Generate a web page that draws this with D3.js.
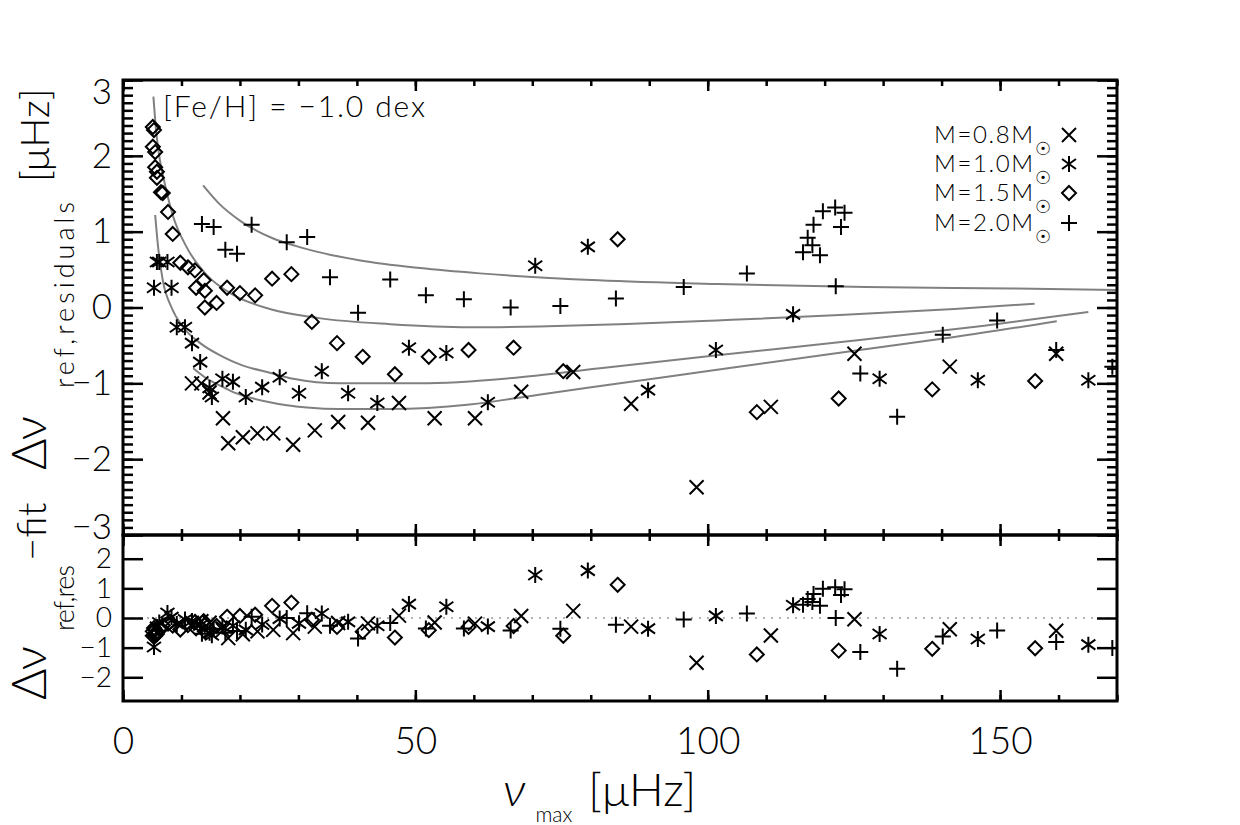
<!DOCTYPE html>
<html>
<head>
<meta charset="utf-8">
<script src="https://cdn.jsdelivr.net/npm/d3@7"></script>
<style>
  body { margin: 0; background: #fff; }
  text { font-family: Lato, "DejaVu Sans", sans-serif; font-weight: 300; fill: #000; }
  .tick line { stroke: #000; stroke-width: 2.5; }
  .domain { display: none; }
</style>
</head>
<body>
<svg class="plot" width="1240" height="825"></svg>
<script>
// ---- data ----
// M = 0.8 Msun  (crosses)
var nuM08  = [11.8, 13.4, 14.8, 17.1, 18.0, 20.5, 23.0, 25.7, 29.1, 32.8, 36.8, 41.9, 47.2, 53.3, 60.2, 68.1, 77.0, 86.9, 98.1, 110.8, 125.1, 141.4, 159.6];
var topM08 = [-1.0, -1.0, -1.12, -1.46, -1.79, -1.71, -1.66, -1.66, -1.81, -1.62, -1.51, -1.52, -1.26, -1.46, -1.46, -1.11, -0.85, -1.27, -2.37, -1.31, -0.61, -0.78, -0.61];
var botM08 = [-0.21, -0.11, -0.16, -0.41, -0.68, -0.55, -0.45, -0.40, -0.51, -0.29, -0.17, -0.18, 0.08, -0.15, -0.19, 0.07, 0.24, -0.29, -1.51, -0.59, -0.04, -0.38, -0.43];

// M = 1.0 Msun  (asterisks)
var nuM10  = [5.3, 5.8, 6.2, 7.6, 8.3, 9.2, 10.6, 11.8, 13.2, 14.8, 15.2, 17.0, 18.8, 21.0, 23.8, 26.8, 30.1, 34.0, 38.5, 43.5, 48.9, 55.3, 62.4, 70.5, 79.5, 89.8, 101.4, 114.6, 129.4, 146.2, 165.1];
var topM10 = [0.26, 0.6, 0.6, 0.6, 0.26, -0.26, -0.26, -0.47, -0.72, -1.06, -1.18, -0.94, -0.98, -1.18, -1.05, -0.92, -1.13, -0.84, -1.13, -1.26, -0.53, -0.6, -1.25, 0.55, 0.8, -1.09, -0.56, -0.09, -0.94, -0.96, -0.96];
var botM10 = [-0.98, -0.3, -0.15, 0.17, 0.03, -0.2, -0.05, -0.1, -0.25, -0.5, -0.58, -0.29, -0.26, -0.4, -0.22, -0.02, -0.18, 0.15, -0.13, -0.26, 0.47, 0.38, -0.29, 1.45, 1.6, -0.36, 0.07, 0.43, -0.54, -0.71, -0.9];

// M = 1.5 Msun  (diamonds)
var nuM15  = [5.1, 5.3, 5.1, 5.5, 5.5, 5.8, 5.8, 6.5, 6.8, 7.7, 8.5, 9.8, 11.1, 12.3, 12.5, 13.8, 14.0, 14.0, 16.0, 17.8, 20.0, 22.6, 25.5, 28.8, 32.3, 36.6, 41.0, 46.5, 52.3, 59.1, 66.8, 75.3, 84.6, 108.4, 122.4, 138.4, 156.0];
var topM15 = [2.38, 2.34, 2.12, 2.05, 1.85, 1.79, 1.71, 1.52, 1.51, 1.26, 0.97, 0.59, 0.53, 0.49, 0.26, 0.36, 0.22, 0.0, 0.06, 0.26, 0.19, 0.16, 0.38, 0.44, -0.19, -0.47, -0.65, -0.88, -0.65, -0.56, -0.53, -0.84, 0.9, -1.38, -1.2, -1.08, -0.97];
var botM15 = [-0.45, -0.34, -0.6, -0.4, -0.6, -0.46, -0.54, -0.36, -0.25, -0.19, -0.26, -0.39, -0.24, -0.14, -0.35, -0.11, -0.23, -0.45, -0.27, 0.04, 0.07, 0.11, 0.41, 0.52, -0.06, -0.3, -0.46, -0.66, -0.41, -0.3, -0.27, -0.6, 1.12, -1.23, -1.1, -1.04, -1.02];

// M = 2.0 Msun  (plus signs)
var nuM20  = [13.5, 15.5, 17.5, 19.5, 22.0, 28.0, 31.5, 35.4, 40.2, 45.7, 51.8, 58.3, 66.3, 74.8, 84.3, 95.9, 106.7, 116.3, 117.1, 117.9, 118.1, 119.2, 119.7, 121.8, 123.4, 122.8, 121.9, 126.1, 132.4, 140.2, 149.5, 159.6, 169.2];
var topM20 = [1.1, 1.06, 0.76, 0.71, 1.09, 0.86, 0.93, 0.40, -0.07, 0.37, 0.16, 0.11, 0.0, 0.02, 0.12, 0.27, 0.45, 0.73, 0.92, 0.82, 1.09, 0.69, 1.27, 1.32, 1.25, 1.06, 0.28, -0.87, -1.44, -0.36, -0.17, -0.56, -0.78];
var botM20 = [-0.53, -0.36, -0.5, -0.44, 0.04, 0.0, 0.16, -0.26, -0.69, -0.17, -0.35, -0.35, -0.42, -0.36, -0.23, -0.05, 0.15, 0.45, 0.64, 0.54, 0.81, 0.41, 0.99, 1.04, 0.97, 0.78, 0.0, -1.15, -1.71, -0.62, -0.42, -0.81, -1.01];

// fitted curves (grey lines in the upper panel)
var fitNuM20 = [13.7, 16.3, 20.3, 25.4, 30.5, 40.6, 50.8, 61.0, 81.3, 101.6, 127.0, 152.4, 170.0];
var fitDvM20 = [1.61, 1.38, 1.13, 0.92, 0.79, 0.62, 0.52, 0.45, 0.36, 0.31, 0.27, 0.25, 0.23];
var fitNuM15 = [5.2, 5.7, 6.3, 7.1, 8.5, 11.0, 14.3, 18.8, 25.1, 33.5, 45.7, 59.3, 71.1, 85.0, 101.6, 122.6, 142.2, 155.9];
var fitDvM15 = [2.78, 2.3, 1.95, 1.65, 1.22, 0.78, 0.43, 0.17, -0.02, -0.14, -0.22, -0.26, -0.25, -0.22, -0.17, -0.1, -0.02, 0.05];
var fitNuM10 = [5.5, 6.0, 6.8, 8.3, 10.3, 13.2, 17.1, 20.3, 25.1, 29.1, 37.1, 50.8, 67.9, 81.6, 101.6, 126.0, 147.3, 165.1];
var fitDvM10 = [1.22, 0.8, 0.36, 0.0, -0.26, -0.47, -0.65, -0.76, -0.86, -0.94, -1.0, -1.0, -0.92, -0.8, -0.63, -0.43, -0.24, -0.06];
var fitNuM08 = [12.0, 14.2, 17.1, 19.3, 22.3, 25.1, 28.0, 31.5, 37.1, 45.7, 59.3, 71.1, 85.0, 101.6, 126.0, 142.2, 159.7];
var fitDvM08 = [-0.8, -0.93, -1.05, -1.13, -1.2, -1.25, -1.29, -1.32, -1.34, -1.34, -1.28, -1.15, -1.0, -0.82, -0.56, -0.39, -0.18];

// axis ticks
var xMajorTicks = [0, 50, 100, 150];
var yTopTicks = [-3, -2, -1, 0, 1, 2, 3];
var yBotTicks = [-2, -1, 0, 1, 2];
var legendLabels = ['M=0.8M', 'M=1.0M', 'M=1.5M', 'M=2.0M'];
var legendTypes = ['cross', 'star', 'diamond', 'plus'];
var metallicityLabel = '[Fe/H] = \u22121.0 dex';

// ---- layout ----
var svg = d3.select('svg.plot');
var plot = {l: 123, r: 1117, t: 80, mid: 535, b: 701};

var xScale = d3.scaleLinear().domain([0, 170]).range([plot.l, plot.r]);
var yTop = d3.scaleLinear().domain([-3, 3]).range([plot.mid, plot.t]);
var yBot = d3.scaleLinear().domain([-2.8, 2.8]).range([plot.b, plot.mid]);

// clip regions for the two panels
var defs = svg.append('defs');
defs.append('clipPath').attr('id', 'clipTop').append('rect')
    .attr('x', plot.l).attr('y', plot.t).attr('width', plot.r - plot.l).attr('height', plot.mid - plot.t);
defs.append('clipPath').attr('id', 'clipBot').append('rect')
    .attr('x', plot.l).attr('y', plot.mid).attr('width', plot.r - plot.l).attr('height', plot.b - plot.mid);

// marker shapes, drawn with d3.path
function markerPath(type) {
    var p = d3.path();
    if (type === 'cross') {
        p.moveTo(-7, -7); p.lineTo(7, 7);
        p.moveTo(-7, 7); p.lineTo(7, -7);
    } else if (type === 'plus') {
        p.moveTo(-8, 0); p.lineTo(8, 0);
        p.moveTo(0, -8); p.lineTo(0, 8);
    } else if (type === 'diamond') {
        p.moveTo(0, -7); p.lineTo(7, 0); p.lineTo(0, 7); p.lineTo(-7, 0); p.closePath();
    } else {
        p.moveTo(0, -8); p.lineTo(0, 8);
        p.moveTo(-7, -5); p.lineTo(7, 5);
        p.moveTo(-7, 5); p.lineTo(7, -5);
    }
    return p.toString();
}

var series = [
    {type: 'cross', nu: nuM08, top: topM08, bot: botM08},
    {type: 'star', nu: nuM10, top: topM10, bot: botM10},
    {type: 'diamond', nu: nuM15, top: topM15, bot: botM15},
    {type: 'plus', nu: nuM20, top: topM20, bot: botM20}
];
var fits = [
    {nu: fitNuM20, dv: fitDvM20},
    {nu: fitNuM15, dv: fitDvM15},
    {nu: fitNuM10, dv: fitDvM10},
    {nu: fitNuM08, dv: fitDvM08}
];

// ---- upper panel: curves and points ----
var topG = svg.append('g').attr('clip-path', 'url(#clipTop)');
var fitLine = d3.line()
    .x(function(d) { return xScale(d[0]); })
    .y(function(d) { return yTop(d[1]); })
    .curve(d3.curveMonotoneX);

topG.selectAll('.fit')
    .data(fits)
    .enter().append('path')
    .attr('class', 'fit')
    .attr('d', function(f) { return fitLine(d3.zip(f.nu, f.dv)); })
    .attr('fill', 'none')
    .attr('stroke', '#808080')
    .attr('stroke-width', 2);

series.forEach(function(s) {
    var pts = d3.zip(s.nu, s.top);
    topG.selectAll('.pt-' + s.type)
        .data(pts)
        .enter().append('path')
        .attr('class', 'pt-' + s.type)
        .attr('transform', function(d) { return 'translate(' + [xScale(d[0]), yTop(d[1])] + ')'; })
        .attr('d', markerPath(s.type))
        .attr('fill', 'none')
        .attr('stroke', '#000')
        .attr('stroke-width', 2);
});

// ---- lower panel: residuals about the fit ----
var botG = svg.append('g').attr('clip-path', 'url(#clipBot)');
botG.append('line')
    .attr('x1', plot.l).attr('x2', plot.r)
    .attr('y1', yBot(0)).attr('y2', yBot(0))
    .attr('stroke', '#999')
    .attr('stroke-width', 1.6)
    .attr('stroke-dasharray', '2,6');

series.forEach(function(s) {
    var pts = d3.zip(s.nu, s.bot);
    botG.selectAll('.res-' + s.type)
        .data(pts)
        .enter().append('path')
        .attr('class', 'res-' + s.type)
        .attr('transform', function(d) { return 'translate(' + [xScale(d[0]), yBot(d[1])] + ')'; })
        .attr('d', markerPath(s.type))
        .attr('fill', 'none')
        .attr('stroke', '#000')
        .attr('stroke-width', 2);
});

// ---- axes (IDL style, ticks on all four sides) ----
var xMinor = d3.range(0, 171, 10);
var yTopMinor = d3.range(-30, 31).map(function(v) { return v / 10; });

function addAxis(axis, tx, ty) {
    return svg.append('g')
        .attr('transform', 'translate(' + [tx, ty] + ')')
        .call(axis);
}
function blank() { return ''; }

// upper panel: x ticks top edge (down) and bottom edge (up)
addAxis(d3.axisTop(xScale).tickValues(xMinor).tickSize(-6).tickFormat(blank), 0, plot.t);
addAxis(d3.axisTop(xScale).tickValues(xMajorTicks).tickSize(-11).tickFormat(blank), 0, plot.t);
addAxis(d3.axisBottom(xScale).tickValues(xMinor).tickSize(-6).tickFormat(blank), 0, plot.mid);
addAxis(d3.axisBottom(xScale).tickValues(xMajorTicks).tickSize(-11).tickFormat(blank), 0, plot.mid);
// lower panel: x ticks top edge (down) and bottom edge (up, labelled)
addAxis(d3.axisTop(xScale).tickValues(xMinor).tickSize(-6).tickFormat(blank), 0, plot.mid);
addAxis(d3.axisTop(xScale).tickValues(xMajorTicks).tickSize(-11).tickFormat(blank), 0, plot.mid);
addAxis(d3.axisBottom(xScale).tickValues(xMinor).tickSize(-6).tickFormat(blank), 0, plot.b);
var xLab = addAxis(d3.axisBottom(xScale).tickValues(xMajorTicks).tickSize(-11).tickPadding(27).tickFormat(d3.format('d')), 0, plot.b);

// upper panel y ticks
addAxis(d3.axisLeft(yTop).tickValues(yTopMinor).tickSize(-10).tickFormat(blank), plot.l, 0);
var yLabTop = addAxis(d3.axisLeft(yTop).tickValues(yTopTicks).tickSize(-20).tickPadding(11).tickFormat(d3.format('d')), plot.l, 0);
addAxis(d3.axisRight(yTop).tickValues(yTopMinor).tickSize(-10).tickFormat(blank), plot.r, 0);
addAxis(d3.axisRight(yTop).tickValues(yTopTicks).tickSize(-20).tickFormat(blank), plot.r, 0);

// lower panel y ticks
var yLabBot = addAxis(d3.axisLeft(yBot).tickValues(yBotTicks).tickSize(-20).tickPadding(11).tickFormat(d3.format('d')), plot.l, 0);
addAxis(d3.axisRight(yBot).tickValues(yBotTicks).tickSize(-20).tickFormat(blank), plot.r, 0);

[xLab, yLabTop, yLabBot].forEach(function(g) {
    g.selectAll('text')
        .attr('fill', '#000')
        .style('font-family', 'Lato, "DejaVu Sans", sans-serif')
        .style('font-weight', 300);
});
xLab.selectAll('text').style('font-size', '37px');
yLabTop.selectAll('text').style('font-size', '35px');
yLabBot.selectAll('text').style('font-size', '28px');
// keep the end labels of the upper panel inside its frame, as in the original
yLabTop.selectAll('.tick')
    .filter(function(d) { return d === 3; })
    .select('text').attr('y', 12);
yLabTop.selectAll('.tick')
    .filter(function(d) { return d === -3; })
    .select('text').attr('y', -8);

// frames
[[plot.t, plot.mid], [plot.mid, plot.b]].forEach(function(p) {
    svg.append('rect')
        .attr('x', plot.l).attr('y', p[0])
        .attr('width', plot.r - plot.l).attr('height', p[1] - p[0])
        .attr('fill', 'none')
        .attr('stroke', '#000')
        .attr('stroke-width', 3);
});

// ---- titles ----
var xTitle = svg.append('text')
    .attr('x', 503).attr('y', 806);
xTitle.append('tspan').style('font-size', '48px').style('font-style', 'italic').text('\u03bd');
xTitle.append('tspan').attr('dx', 10).attr('dy', 16).style('font-size', '21px').text('max');
xTitle.append('tspan').attr('dx', 16).attr('dy', -16)
    .style('font-size', '46px').text('[\u03bcHz]');

// y titles, rotated, built from separate text runs
function rotatedText(x, y, size, label, len) {
    var t = svg.append('text')
        .attr('transform', 'translate(' + [x, y] + ') rotate(-90)')
        .style('font-size', size + 'px')
        .text(label);
    if (len) { t.attr('textLength', len).attr('lengthAdjust', 'spacing'); }
    return t;
}
rotatedText(46, 470, 48, '\u0394\u03bd');
rotatedText(74, 388, 27, 'ref,residuals', 186);
rotatedText(49, 182, 40, '[\u03bcHz]');

// lower y title
rotatedText(46, 700, 48, '\u0394\u03bd');
rotatedText(74, 631, 27, 'ref,res', 66);
rotatedText(46, 561, 40, '\u2212fit');

// ---- legends ----
svg.append('text')
    .attr('x', 163).attr('y', 117)
    .attr('textLength', 262)
    .attr('lengthAdjust', 'spacing')
    .style('font-size', '30px')
    .text(metallicityLabel);

var legendY = [135, 164, 193, 223];
legendLabels.forEach(function(lbl, i) {
    svg.append('text')
        .attr('x', 1033).attr('y', legendY[i] + 8)
        .attr('text-anchor', 'end')
        .attr('textLength', 99)
        .attr('lengthAdjust', 'spacing')
        .style('font-size', '24px')
        .text(lbl);
    svg.append('text')
        .attr('x', 1043).attr('y', legendY[i] + 20)
        .attr('text-anchor', 'middle')
        .style('font-family', '"DejaVu Sans", sans-serif')
        .style('font-size', '18px')
        .text('\u2609');
    svg.append('path')
        .attr('transform', 'translate(' + [1069, legendY[i]] + ')')
        .attr('d', markerPath(legendTypes[i]))
        .attr('fill', 'none')
        .attr('stroke', '#000')
        .attr('stroke-width', 2);
});
</script>
</body>
</html>
